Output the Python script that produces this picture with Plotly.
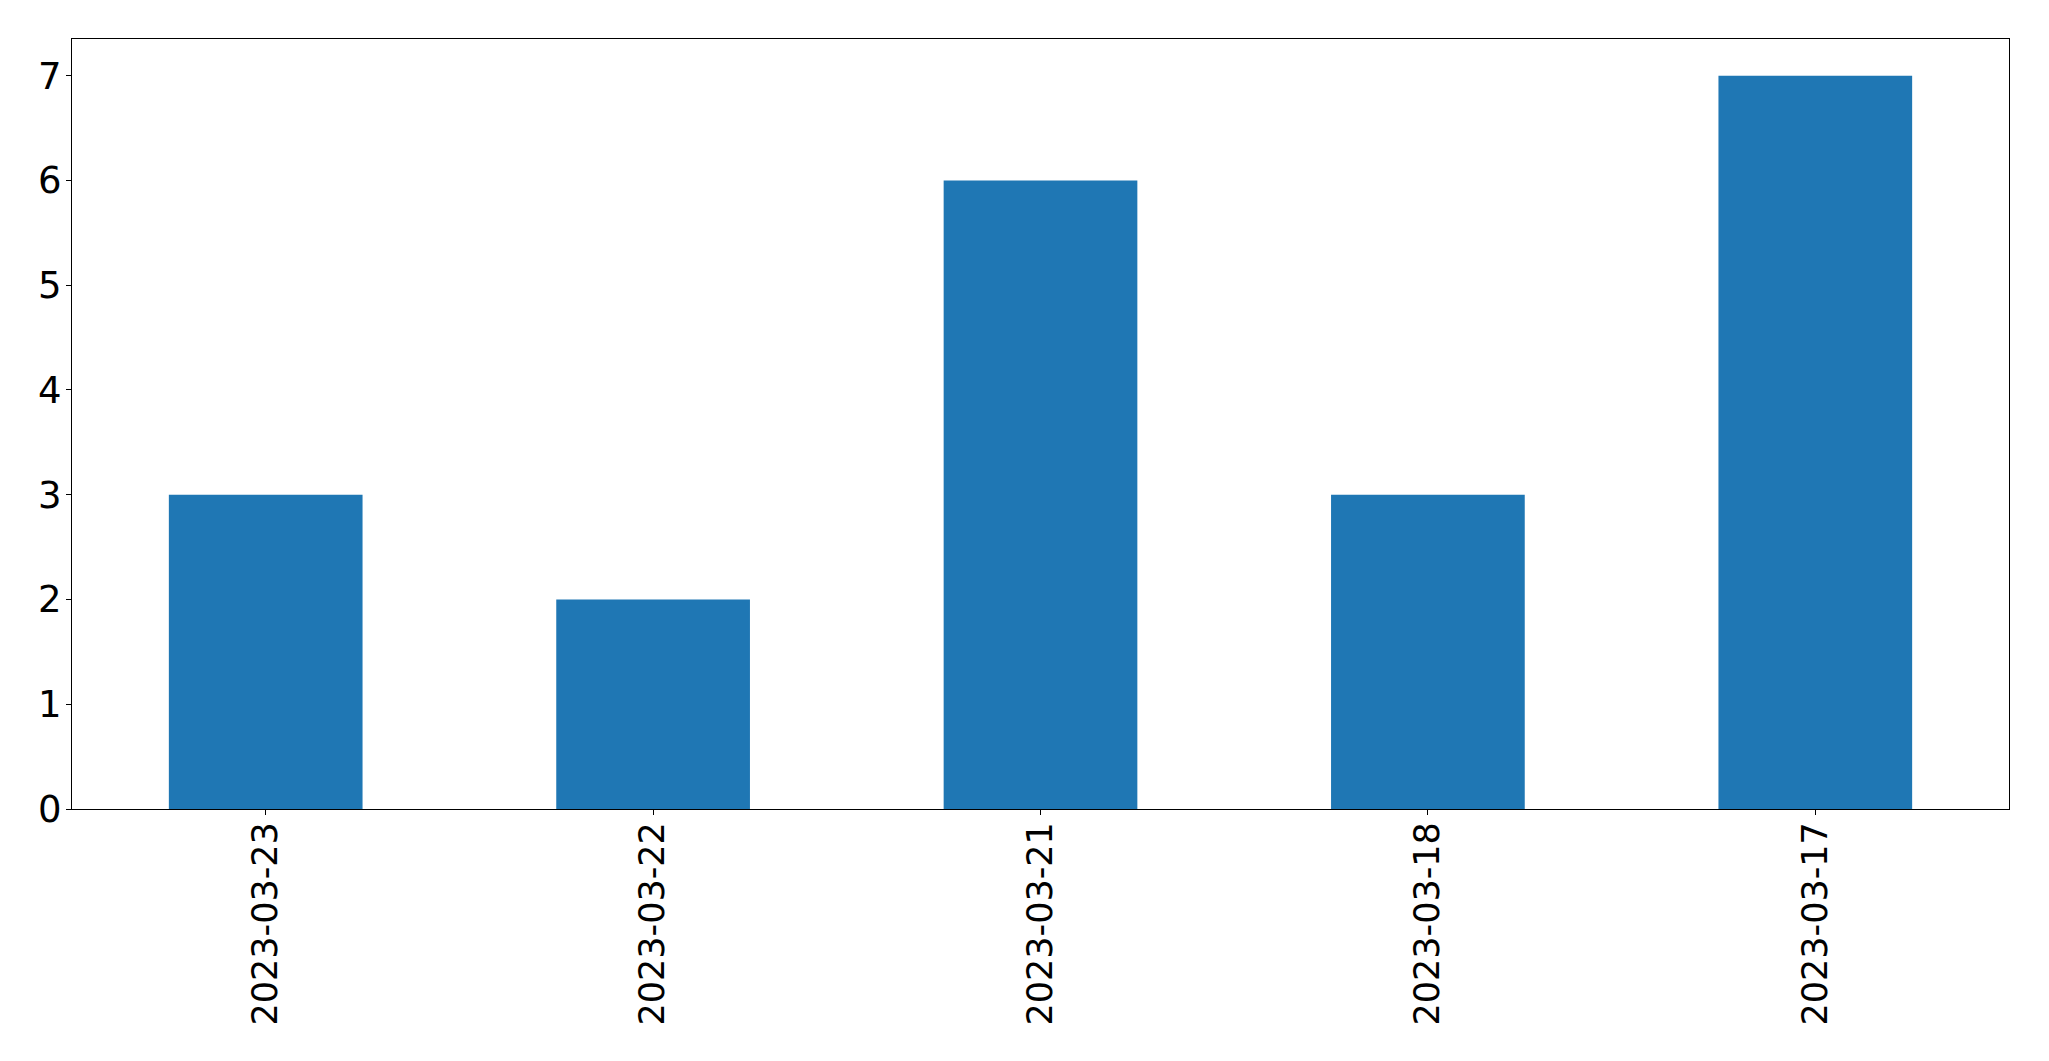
import plotly.graph_objects as go

dates = ["2023-03-23", "2023-03-22", "2023-03-21", "2023-03-18", "2023-03-17"]
counts = [3, 2, 6, 3, 7]
y_ticks = [0, 1, 2, 3, 4, 5, 6, 7]

fig = go.Figure(go.Bar(x=dates, y=counts, width=0.5, marker=dict(color="#1f77b4", line=dict(width=0))))

# page body has an 8px margin; compensate so the plot box lands where the reference has it
xfont = dict(family="DejaVu Sans", size=35, color="black")
yfont = dict(family="DejaVu Sans", size=37, color="black")
fig.update_layout(
    width=2033, height=1045,
    margin=dict(l=64, r=32, t=31, b=244, autoexpand=False),
    plot_bgcolor="white", paper_bgcolor="white",
    showlegend=False,
    font=xfont,
)
fig.update_xaxes(
    type="category", range=[-0.5, 4.5], tickangle=-90, automargin=False,
    showline=True, linecolor="black", linewidth=1.3, mirror=True,
    ticks="outside", ticklen=5, tickwidth=1.3, tickcolor="black",
    showgrid=False, zeroline=False, tickfont=xfont, ticklabelstandoff=-7,
)
fig.update_yaxes(
    range=[0, 7.35], tickvals=y_ticks, automargin=False,
    showline=True, linecolor="black", linewidth=1.3, mirror=True,
    ticks="outside", ticklen=5, tickwidth=1.3, tickcolor="black",
    showgrid=False, zeroline=False, tickfont=yfont, ticklabelstandoff=-3,
)
fig.write_html("out.html")
